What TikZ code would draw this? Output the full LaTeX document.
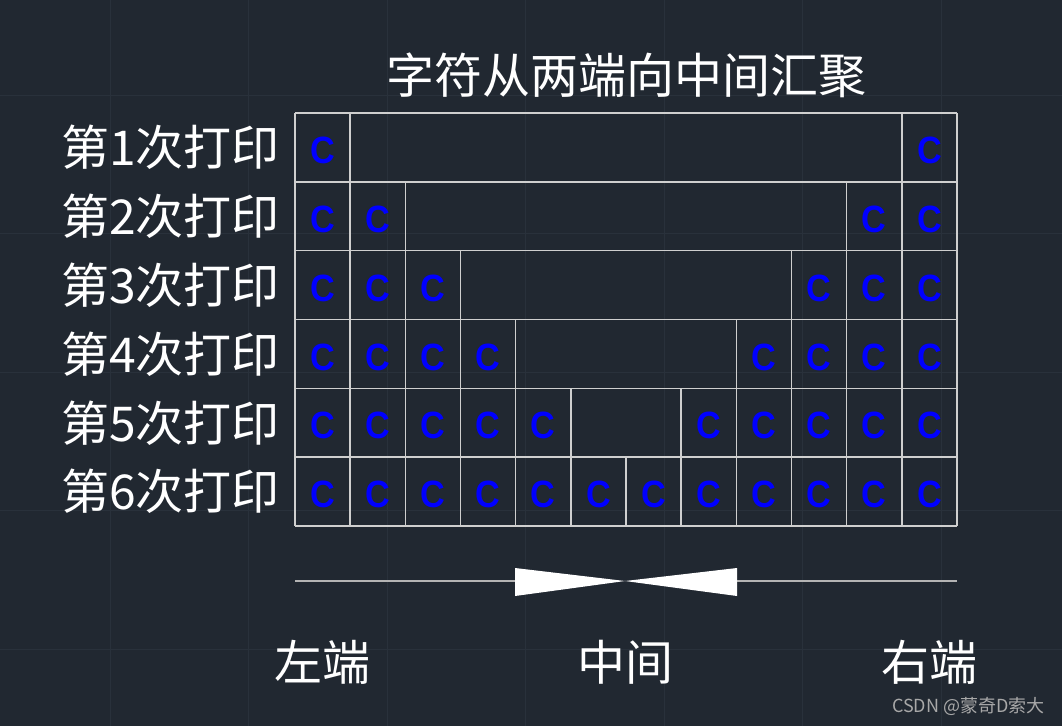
\documentclass[tikz,border=0pt]{standalone}
\usepackage{fontspec}
\setmainfont{Liberation Sans}
\newfontfamily\cjk{Noto Sans CJK SC}
\definecolor{bgc}{HTML}{212831}
\definecolor{gridc}{HTML}{29313B}
\definecolor{tabc}{HTML}{CFCFCF}
\definecolor{axisc}{HTML}{B4B4B4}
\definecolor{markc}{HTML}{A8A8A8}
\tikzset{
  tabline/.style={draw=tabc, line width=1.4pt},
  cchar/.style={text=blue, inner sep=0pt, font=\bfseries\fontsize{38}{40}\selectfont, xscale=0.9},
  rowlab/.style={text=white, inner sep=0pt, anchor=east, font=\cjk\fontsize{48}{50}\selectfont},
  biglab/.style={text=white, inner sep=0pt, font=\cjk\fontsize{48}{50}\selectfont},
}
\begin{document}
\begin{tikzpicture}[x=1pt,y=-1pt]
\fill[bgc] (0,0) rectangle (1062,726);
\useasboundingbox (0,0) rectangle (1062,726);
% faint background grid
\foreach \gx in {110,248.5,387,525.5,664,802.5,941}
  \draw[gridc, line width=1pt] (\gx,0) -- (\gx,726);
\foreach \gy in {95,233.5,372,510.5,649}
  \draw[gridc, line width=1pt] (0,\gy) -- (1062,\gy);
% title
\node[biglab] (title) at (626,75) {字符从两端向中间汇聚};
% table
\def\cw{55.1667}
\def\rh{68.833}
\foreach \r in {0,...,6}{
  \pgfmathsetmacro\yy{113+\r*\rh}
  \draw[tabline] (295,\yy) -- (957,\yy);
}
\foreach \r in {1,...,6}{
  \pgfmathsetmacro\ya{113+(\r-1)*\rh}
  \pgfmathsetmacro\yb{113+\r*\rh}
  \pgfmathsetmacro\yc{113+(\r-0.5)*\rh+3}
  \pgfmathtruncatemacro\rr{12-\r}
  \node[rowlab] (lab\r) at (280,\yc-3) {第\r 次打印};
  \foreach \k in {0,...,\r}{
    \pgfmathsetmacro\xx{295+\k*\cw}
    \draw[tabline] (\xx,\ya) -- (\xx,\yb);
  }
  \foreach \k in {\rr,...,12}{
    \pgfmathsetmacro\xx{295+\k*\cw}
    \draw[tabline] (\xx,\ya) -- (\xx,\yb);
  }
  \pgfmathtruncatemacro\rl{\r-1}
  \foreach \k in {0,...,\rl}{
    \pgfmathsetmacro\xc{295+(\k+0.5)*\cw}
    \node[cchar] (c\r-\k) at (\xc,\yc) {C};
  }
  \foreach \k in {\rr,...,11}{
    \pgfmathsetmacro\xc{295+(\k+0.5)*\cw}
    \node[cchar] (c\r-\k) at (\xc,\yc) {C};
  }
}
% axis with bowtie
\coordinate (axL) at (295,581);
\coordinate (axR) at (957,581);
\coordinate (bowL) at (515,581);
\coordinate (bowR) at (737,581);
\coordinate (mid) at (625,581);
\draw[axisc, line width=1.4pt] (axL) -- (bowL);
\draw[axisc, line width=1.4pt] (bowR) -- (axR);
\fill[white] (515,568) -- (mid) -- (515,596) -- cycle;
\fill[white] (737,568) -- (mid) -- (737,596) -- cycle;
% bottom labels
\node[biglab] (left) at (322,662) {左端};
\node[biglab] (middle) at (625,662) {中间};
\node[biglab] (right) at (929,662) {右端};
% watermark
\node[text=markc, inner sep=0pt, anchor=east, font=\cjk\fontsize{18}{20}\selectfont] (wm) at (1045,706) {CSDN @蒙奇D索大};
\end{tikzpicture}
\end{document}
